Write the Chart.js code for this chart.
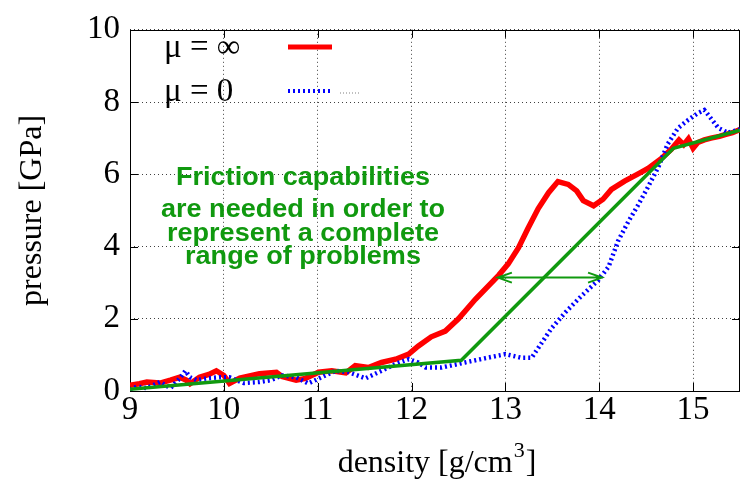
<!DOCTYPE html>
<html>
<head>
<meta charset="utf-8">
<script src="https://cdn.jsdelivr.net/npm/chart.js@4"></script>
<style>
  html, body { margin: 0; padding: 0; background: #fff; }
  #wrap { width: 741px; height: 481px; }
</style>
</head>
<body>
<div id="wrap"><canvas id="myChart" width="741" height="481"></canvas></div>
<script>
// mu = infinity (red)
const redX = [9.0, 9.1, 9.18, 9.32, 9.43, 9.53, 9.6, 9.64, 9.74, 9.84, 9.92, 10.0, 10.06, 10.17, 10.38, 10.56, 10.62, 10.77, 10.87, 11.01, 11.15, 11.3, 11.4, 11.54, 11.68, 11.83, 11.97, 12.07, 12.21, 12.36, 12.5, 12.68, 12.93, 13.03, 13.14, 13.24, 13.35, 13.46, 13.56, 13.67, 13.76, 13.83, 13.94, 14.04, 14.13, 14.27, 14.4, 14.52, 14.66, 14.77, 14.85, 14.9, 14.95, 15.0, 15.05, 15.12, 15.19, 15.28, 15.34, 15.42, 15.5];
const redY = [0.16, 0.2, 0.25, 0.22, 0.3, 0.38, 0.3, 0.2, 0.38, 0.46, 0.56, 0.43, 0.21, 0.36, 0.48, 0.52, 0.4, 0.3, 0.35, 0.52, 0.56, 0.5, 0.7, 0.65, 0.79, 0.88, 1.02, 1.24, 1.5, 1.66, 2.0, 2.54, 3.21, 3.52, 3.97, 4.5, 5.05, 5.49, 5.8, 5.72, 5.54, 5.27, 5.13, 5.31, 5.58, 5.81, 5.99, 6.16, 6.43, 6.7, 6.95, 6.82, 6.98, 6.72, 6.88, 6.95, 7.0, 7.05, 7.1, 7.15, 7.24];
// mu = 0 (blue, dotted)
const blueX = [9.0, 9.07, 9.18, 9.32, 9.43, 9.53, 9.59, 9.64, 9.71, 9.82, 9.96, 10.06, 10.21, 10.38, 10.5, 10.62, 10.77, 10.9, 11.04, 11.19, 11.33, 11.51, 11.68, 11.83, 11.97, 12.07, 12.15, 12.32, 12.57, 12.79, 13.0, 13.17, 13.28, 13.35, 13.49, 13.64, 13.81, 13.99, 14.1, 14.2, 14.31, 14.41, 14.52, 14.63, 14.73, 14.84, 14.95, 15.05, 15.12, 15.19, 15.27, 15.37, 15.5];
const blueY = [0.03, 0.12, 0.08, 0.25, 0.08, 0.35, 0.56, 0.38, 0.3, 0.35, 0.38, 0.38, 0.22, 0.25, 0.3, 0.43, 0.38, 0.21, 0.38, 0.56, 0.52, 0.35, 0.56, 0.75, 0.88, 0.79, 0.65, 0.65, 0.79, 0.91, 1.02, 0.92, 0.92, 1.19, 1.73, 2.18, 2.63, 3.07, 3.44, 4.15, 4.69, 5.13, 5.65, 6.2, 6.84, 7.28, 7.51, 7.69, 7.78, 7.55, 7.28, 7.15, 7.24];
// green guide line
const greenX = [9.0, 12.53, 14.79, 15.5];
const greenY = [0.05, 0.85, 6.72, 7.22];
// double arrow
const arrowX = [12.92, 14.03];
const arrowY = 3.14;

const xTicks = [9, 10, 11, 12, 13, 14, 15];
const yTicks = [0, 2, 4, 6, 8, 10];
const noteLines = ["Friction capabilities", "are needed in order to", "represent a complete", "range of problems"];
const legendLabels = ["\u03bc = \u221e", "\u03bc = 0"];

const GREEN = "#10990f";
const SERIF = "'Liberation Serif', 'DejaVu Serif', serif";

function pts(xs, ys) {
  return xs.map(function (x, i) { return {x: x, y: ys[i]}; });
}

// frame and inward tick marks, like gnuplot
const framePlugin = {
  id: "frame",
  beforeDatasetsDraw: function (chart) {
    const ctx = chart.ctx, a = chart.chartArea;
    const xs = chart.scales.x, ys = chart.scales.y;
    ctx.save();
    ctx.strokeStyle = "#000";
    ctx.lineWidth = 1;
    ctx.beginPath();
    xTicks.forEach(function (v) {
      const px = Math.round(xs.getPixelForValue(v)) + 0.5;
      ctx.moveTo(px, a.bottom); ctx.lineTo(px, a.bottom - 8);
      ctx.moveTo(px, a.top); ctx.lineTo(px, a.top + 8);
    });
    yTicks.forEach(function (v) {
      const py = Math.round(ys.getPixelForValue(v)) + 0.5;
      ctx.moveTo(a.left, py); ctx.lineTo(a.left + 8, py);
      ctx.moveTo(a.right, py); ctx.lineTo(a.right - 8, py);
    });
    ctx.stroke();
    ctx.strokeRect(Math.round(a.left) + 0.5, Math.round(a.top) + 0.5, Math.round(a.right - a.left) - 1, Math.round(a.bottom - a.top));
    ctx.restore();
  }
};

// annotation text, arrow, legend and the x title
const notesPlugin = {
  id: "notes",
  afterDatasetsDraw: function (chart) {
    const ctx = chart.ctx;
    const xs = chart.scales.x, ys = chart.scales.y;
    ctx.save();

    // double headed arrow
    const x1 = xs.getPixelForValue(arrowX[0]);
    const x2 = xs.getPixelForValue(arrowX[1]);
    const y = ys.getPixelForValue(arrowY);
    ctx.strokeStyle = GREEN;
    ctx.lineWidth = 2;
    ctx.beginPath();
    ctx.moveTo(x1, y); ctx.lineTo(x2, y);
    ctx.moveTo(x1 + 14, y - 5); ctx.lineTo(x1, y); ctx.lineTo(x1 + 14, y + 5);
    ctx.moveTo(x2 - 14, y - 5); ctx.lineTo(x2, y); ctx.lineTo(x2 - 14, y + 5);
    ctx.stroke();

    // note text
    ctx.fillStyle = GREEN;
    ctx.font = "bold 26px 'Liberation Sans', Arial, sans-serif";
    ctx.textAlign = "center";
    ctx.textBaseline = "middle";
    const noteY = [178, 210, 234, 257];
    noteLines.forEach(function (t, i) {
      ctx.save();
      ctx.translate(303, noteY[i]);
      ctx.scale(1.04, 1);
      ctx.fillText(t, 0, 0);
      ctx.restore();
    });

    // legend
    ctx.fillStyle = "#000";
    ctx.font = "33px " + SERIF;
    ctx.textAlign = "left";
    ctx.fillText(legendLabels[0], 164, 48);
    ctx.fillText(legendLabels[1], 164, 92);
    ctx.lineWidth = 5;
    ctx.strokeStyle = "#ff0000";
    ctx.beginPath(); ctx.moveTo(288, 47); ctx.lineTo(332, 47); ctx.stroke();
    ctx.strokeStyle = "#0000ff";
    ctx.lineWidth = 4;
    ctx.setLineDash([2, 3]);
    ctx.beginPath(); ctx.moveTo(288, 91); ctx.lineTo(330, 91); ctx.stroke();
    ctx.strokeStyle = "rgba(0,0,0,0.5)";
    ctx.lineWidth = 1;
    ctx.setLineDash([1, 2]);
    ctx.beginPath(); ctx.moveTo(340, 93); ctx.lineTo(361, 93); ctx.stroke();
    ctx.setLineDash([]);

    // x axis title with a real superscript
    ctx.fillStyle = "#000";
    ctx.textBaseline = "alphabetic";
    ctx.font = "32px " + SERIF;
    const t1 = "density [g/cm", t2 = "3", t3 = "]";
    ctx.font = "32px " + SERIF;
    const w1 = ctx.measureText(t1).width, w3 = ctx.measureText(t3).width;
    ctx.font = "22px " + SERIF;
    const w2 = ctx.measureText(t2).width;
    let tx = 436 - (w1 + w2 + w3) / 2;
    ctx.font = "32px " + SERIF;
    ctx.fillText(t1, tx, 472);
    ctx.font = "22px " + SERIF;
    ctx.fillText(t2, tx + w1 + 1, 457);
    ctx.font = "32px " + SERIF;
    ctx.fillText(t3, tx + w1 + w2 + 2, 472);
    ctx.restore();
  }
};

new Chart("myChart", {
  type: "line",
  data: {
    datasets: [{
      data: pts(greenX, greenY),
      borderColor: GREEN,
      borderWidth: 3.5,
      order: 0
    }, {
      data: pts(blueX, blueY),
      borderColor: "#0000ff",
      borderWidth: 4.5,
      borderDash: [2, 3],
      order: 1
    }, {
      data: pts(redX, redY),
      borderColor: "#ff0000",
      borderWidth: 5.5,
      order: 2
    }]
  },
  options: {
    responsive: false,
    animation: false,
    events: [],
    elements: { point: { radius: 0 }, line: { tension: 0, fill: false } },
    layout: { padding: { top: 19, right: 1, left: 0, bottom: 0 } },
    plugins: { legend: { display: false }, tooltip: { enabled: false } },
    scales: {
      x: {
        type: "linear",
        min: 9,
        max: 15.5,
        afterBuildTicks: function (s) { s.ticks = xTicks.map(function (v) { return {value: v}; }); },
        afterFit: function (s) { s.height = 90; },
        grid: { color: "rgba(0,0,0,0.75)", drawTicks: false },
        border: { display: false, dash: [1, 3] },
        ticks: { color: "#000", padding: 0, font: { family: SERIF, size: 33 } },
        title: { display: false }
      },
      y: {
        min: 0,
        max: 10,
        afterBuildTicks: function (s) { s.ticks = yTicks.map(function (v) { return {value: v}; }); },
        afterFit: function (s) { s.width = 130; },
        grid: { color: "rgba(0,0,0,0.75)", drawTicks: false },
        border: { display: false, dash: [1, 3] },
        ticks: { color: "#000", padding: 10, font: { family: SERIF, size: 33 } },
        title: {
          display: true,
          text: "pressure [GPa]",
          color: "#000",
          padding: { top: 13, bottom: 0 },
          font: { family: SERIF, size: 32 }
        }
      }
    }
  },
  plugins: [framePlugin, notesPlugin]
});
</script>
</body>
</html>
